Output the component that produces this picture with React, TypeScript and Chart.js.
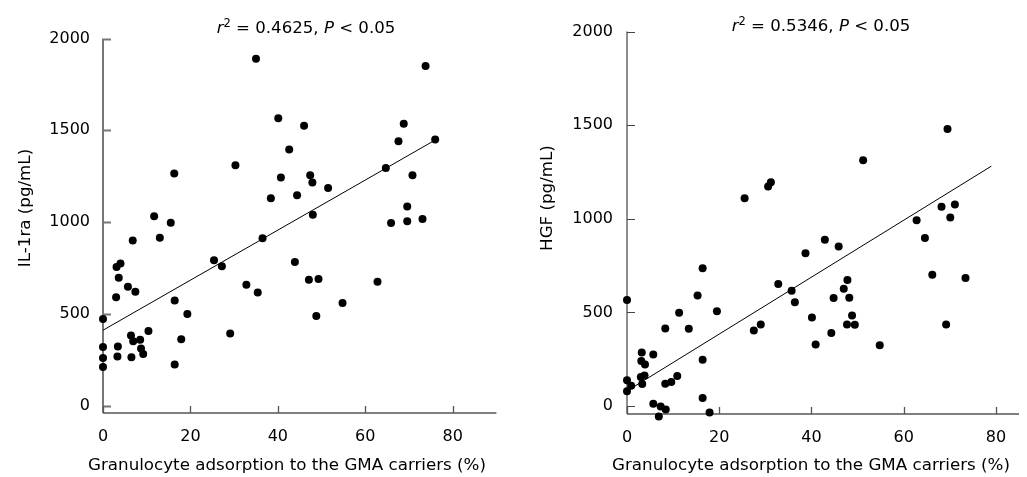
import React, { useEffect, useRef } from 'react';
import { Chart, registerables } from 'chart.js';

Chart.register(...registerables);

const FONT = '"DejaVu Sans", Verdana, sans-serif';

// Left panel: IL-1ra vs granulocyte adsorption
const il1raX = [35.0, 40.1, 42.6, 30.3, 16.3, 40.7, 38.4, 44.4, 11.7, 73.8, 46.0, 68.8, 67.6, 76.0, 64.7, 47.4, 47.9, 51.5, 70.8, 48.0, 69.6, 65.9, 69.6, 73.1, 43.9, 47.1, 49.3, 62.8, 54.8, 48.8, 15.5, 6.8, 13.0, 36.5, 25.4, 27.2, 4.0, 3.1, 3.6, 5.7, 7.4, 3.0, 32.8, 35.4, 16.4, 19.3, 0, 10.4, 29.1, 6.4, 6.9, 8.5, 17.9, 0, 3.4, 8.7, 9.2, 0, 3.3, 6.5, 0, 16.4];
const il1raY = [1890, 1565, 1395, 1310, 1265, 1243, 1130, 1146, 1032, 1850, 1525, 1535, 1440, 1450, 1295, 1255, 1215, 1185, 1255, 1040, 1085, 995, 1005, 1017, 783, 686, 690, 675, 559, 488, 997, 900, 915, 912, 792, 759, 775, 755, 697, 648, 621, 590, 659, 617, 573, 499, 472, 406, 393, 382, 351, 359, 362, 320, 322, 311, 282, 260, 268, 264, 211, 224];
const il1raFitX = [0, 76];
const il1raFitY = [411, 1447];

// Right panel: HGF vs granulocyte adsorption
const hgfX = [25.5, 31.2, 30.6, 69.5, 51.2, 68.2, 71.1, 70.1, 62.8, 64.6, 42.9, 45.9, 66.2, 73.4, 47.8, 47.0, 44.8, 48.2, 40.1, 48.8, 47.7, 49.4, 69.2, 44.3, 40.9, 54.8, 38.7, 16.4, 0, 15.3, 32.8, 35.7, 36.4, 19.5, 11.3, 8.3, 13.4, 27.5, 29.0, 3.2, 5.7, 3.1, 3.9, 16.4, 3.0, 3.8, 10.9, 9.6, 8.3, 3.3, 0, 0.9, 0, 16.4, 5.7, 7.3, 8.4, 6.9, 17.9];
const hgfY = [1110, 1195, 1173, 1480, 1312, 1064, 1077, 1007, 992, 897, 888, 852, 702, 684, 673, 627, 577, 578, 473, 484, 436, 434, 436, 391, 329, 325, 816, 736, 566, 591, 652, 616, 555, 506, 498, 414, 413, 404, 436, 286, 275, 241, 222, 248, 155, 164, 161, 129, 120, 118, 138, 109, 79, 43, 13, -2, -18, -55, -34];
const hgfFitX = [0, 79];
const hgfFitY = [81, 1281];

const xTickValues = [0, 20, 40, 60, 80];
const yTickValues = [0, 500, 1000, 1500, 2000];
const xTitle = 'Granulocyte adsorption to the GMA carriers (%)';

type Panel = {
  xs: number[]; ys: number[]; fitX: number[]; fitY: number[];
  r2: string; yTitle: string;
  canvasLeft: number; canvasWidth: number;
  areaLeft: number; padTop: number; padRight: number; xAxisHeight: number;
  xMax: number; yMin: number; yPad: number;
  titleX: number; titleY: number;
  xTitleX: number; xTitleY: number;
  yTitleX: number; yTitleY: number;
  yAxisColor: string; yAxisWidth: number;
};

const panels: Panel[] = [
  {
    xs: il1raX, ys: il1raY, fitX: il1raFitX, fitY: il1raFitY,
    r2: '0.4625', yTitle: 'IL-1ra (pg/mL)',
    canvasLeft: 0, canvasWidth: 513,
    areaLeft: 103, padTop: 38.5, padRight: 16.6, xAxisHeight: 64,
    xMax: 90, yMin: -40, yPad: 13,
    titleX: 216.7, titleY: 33,
    xTitleX: 287, xTitleY: 470,
    yTitleX: 30, yTitleY: 208,
    yAxisColor: '#777', yAxisWidth: 2,
  },
  {
    xs: hgfX, ys: hgfY, fitX: hgfFitX, fitY: hgfFitY,
    r2: '0.5346', yTitle: 'HGF (pg/mL)',
    canvasLeft: 513, canvasWidth: 514,
    areaLeft: 114, padTop: 31.5, padRight: 8, xAxisHeight: 63,
    xMax: 85, yMin: -42, yPad: 14,
    titleX: 218.7, titleY: 31,
    xTitleX: 298, xTitleY: 470,
    yTitleX: 39, yTitleY: 198,
    yAxisColor: '#444', yAxisWidth: 1.2,
  },
];

function drawTitle(ctx: CanvasRenderingContext2D, p: Panel) {
  ctx.save();
  ctx.fillStyle = '#000';
  ctx.textBaseline = 'alphabetic';
  ctx.textAlign = 'left';
  let x = p.titleX;
  const y = p.titleY;
  const parts: { t: string; font: string; dy: number }[] = [
    { t: 'r', font: `italic 16.6px ${FONT}`, dy: 0 },
    { t: '2', font: `11.5px ${FONT}`, dy: -6.5 },
    { t: ` = ${p.r2}, `, font: `16.6px ${FONT}`, dy: 0 },
    { t: 'P', font: `italic 16.6px ${FONT}`, dy: 0 },
    { t: ' < 0.05', font: `16.6px ${FONT}`, dy: 0 },
  ];
  for (const part of parts) {
    ctx.font = part.font;
    ctx.fillText(part.t, x, y + part.dy);
    x += ctx.measureText(part.t).width;
  }
  ctx.restore();
}

function makePlugin(p: Panel) {
  return {
    id: 'customAxes',
    beforeDatasetsDraw(chart: any) {
      const ctx: CanvasRenderingContext2D = chart.ctx;
      const xs = chart.scales.x;
      const ys = chart.scales.y;
      const { left, right, top, bottom } = chart.chartArea;
      ctx.save();
      ctx.strokeStyle = p.yAxisColor;
      ctx.lineWidth = p.yAxisWidth;
      ctx.beginPath();
      ctx.moveTo(left, top);
      ctx.lineTo(left, bottom);
      for (const v of yTickValues) {
        const py = Math.round(ys.getPixelForValue(v)) + 0.5;
        ctx.moveTo(left, py);
        ctx.lineTo(left + 8, py);
      }
      ctx.stroke();
      ctx.strokeStyle = '#555';
      ctx.lineWidth = 1.3;
      ctx.beginPath();
      ctx.moveTo(left, bottom);
      ctx.lineTo(right, bottom);
      for (const v of xTickValues) {
        const px = Math.round(xs.getPixelForValue(v)) + 0.5;
        ctx.moveTo(px, bottom);
        ctx.lineTo(px, bottom - 7);
      }
      ctx.stroke();
      ctx.restore();
    },
    afterDraw(chart: any) {
      const ctx: CanvasRenderingContext2D = chart.ctx;
      drawTitle(ctx, p);
      ctx.save();
      ctx.fillStyle = '#000';
      ctx.font = `16.7px ${FONT}`;
      ctx.textAlign = 'center';
      ctx.textBaseline = 'alphabetic';
      ctx.fillText(xTitle, p.xTitleX, p.xTitleY);
      ctx.translate(p.yTitleX, p.yTitleY);
      ctx.rotate(-Math.PI / 2);
      ctx.fillText(p.yTitle, 0, 0);
      ctx.restore();
    },
  };
}

function ScatterPanel({ p }: { p: Panel }) {
  const ref = useRef<HTMLCanvasElement | null>(null);
  useEffect(() => {
    if (!ref.current) return;
    const points = p.xs.map((x, i) => ({ x, y: p.ys[i] }));
    const fit = p.fitX.map((x, i) => ({ x, y: p.fitY[i] }));
    const chart = new Chart(ref.current, {
      type: 'scatter',
      data: {
        datasets: [
          {
            data: points,
            backgroundColor: '#000',
            borderColor: '#000',
            pointRadius: 4,
            pointBorderWidth: 0,
            clip: false as any,
          },
          {
            type: 'line' as any,
            data: fit,
            borderColor: '#000',
            borderWidth: 1,
            pointRadius: 0,
            showLine: true,
            fill: false,
            clip: false as any,
          } as any,
        ],
      },
      options: {
        animation: false,
        responsive: false,
        maintainAspectRatio: false,
        layout: { padding: { top: p.padTop, right: p.padRight, left: 0, bottom: 0 } },
        plugins: {
          legend: { display: false },
          tooltip: { enabled: false },
          title: { display: false },
        },
        scales: {
          x: {
            type: 'linear',
            min: 0,
            max: p.xMax,
            grid: { display: false, drawTicks: false },
            border: { display: false },
            ticks: {
              font: { family: FONT, size: 16 },
              color: '#000',
              padding: 14,
              maxRotation: 0,
              autoSkip: false,
              callback: (v: any) => String(v),
            },
            afterBuildTicks: (s: any) => {
              s.ticks = xTickValues.map((v) => ({ value: v }));
            },
            afterFit: (s: any) => {
              s.height = p.xAxisHeight;
            },
          },
          y: {
            type: 'linear',
            min: p.yMin,
            max: 2000,
            grid: { display: false, drawTicks: false },
            border: { display: false },
            ticks: {
              font: { family: FONT, size: 16 },
              color: '#000',
              padding: p.yPad,
              autoSkip: false,
              callback: (v: any) => String(v),
            },
            afterBuildTicks: (s: any) => {
              s.ticks = yTickValues.map((v) => ({ value: v }));
            },
            afterFit: (s: any) => {
              s.width = p.areaLeft;
            },
          },
        },
      } as any,
      plugins: [makePlugin(p) as any],
    });
    return () => chart.destroy();
  }, [p]);
  return (
    <canvas
      ref={ref}
      width={p.canvasWidth}
      height={477}
      style={{ position: 'absolute', left: p.canvasLeft, top: 0, width: p.canvasWidth, height: 477 }}
    />
  );
}

export default function App() {
  return (
    <div style={{ position: 'fixed', left: 0, top: 0, width: 1027, height: 477, background: '#fff' }}>
      {panels.map((p, i) => (
        <ScatterPanel key={i} p={p} />
      ))}
    </div>
  );
}
